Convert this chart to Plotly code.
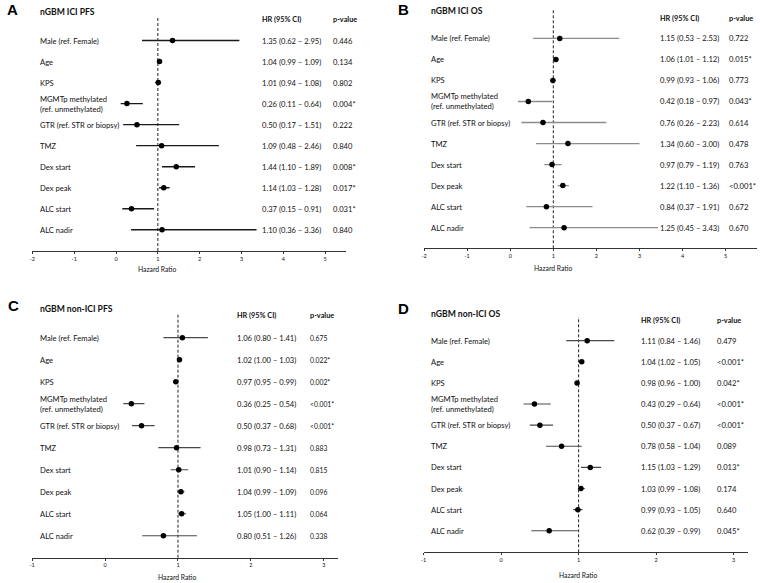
import plotly.graph_objects as go

W, H = 760, 583

labels = ["Male (ref. Female)", "Age", "KPS", "MGMTp methylated<br>(ref. unmethylated)",
          "GTR (ref. STR or biopsy)", "TMZ", "Dex start", "Dex peak", "ALC start", "ALC nadir"]

a_hr = [1.35, 1.04, 1.01, 0.26, 0.50, 1.09, 1.44, 1.14, 0.37, 1.10]
a_lo = [0.62, 0.99, 0.94, 0.11, 0.17, 0.48, 1.10, 1.03, 0.15, 0.36]
a_hi = [2.95, 1.09, 1.08, 0.64, 1.51, 2.46, 1.89, 1.28, 0.91, 3.36]
a_p = ["0.446", "0.134", "0.802", "0.004*", "0.222", "0.840", "0.008*", "0.017*", "0.031*", "0.840"]

b_hr = [1.15, 1.06, 0.99, 0.42, 0.76, 1.34, 0.97, 1.22, 0.84, 1.25]
b_lo = [0.53, 1.01, 0.93, 0.18, 0.26, 0.60, 0.79, 1.10, 0.37, 0.45]
b_hi = [2.53, 1.12, 1.06, 0.97, 2.23, 3.00, 1.19, 1.36, 1.91, 3.43]
b_p = ["0.722", "0.015*", "0.773", "0.043*", "0.614", "0.478", "0.763", "<0.001*", "0.672", "0.670"]

c_hr = [1.06, 1.02, 0.97, 0.36, 0.50, 0.98, 1.01, 1.04, 1.05, 0.80]
c_lo = [0.80, 1.00, 0.95, 0.25, 0.37, 0.73, 0.90, 0.99, 1.00, 0.51]
c_hi = [1.41, 1.03, 0.99, 0.54, 0.68, 1.31, 1.14, 1.09, 1.11, 1.26]
c_p = ["0.675", "0.022*", "0.002*", "<0.001*", "<0.001*", "0.883", "0.815", "0.096", "0.064", "0.338"]

d_hr = [1.11, 1.04, 0.98, 0.43, 0.50, 0.78, 1.15, 1.03, 0.99, 0.62]
d_lo = [0.84, 1.02, 0.96, 0.29, 0.37, 0.58, 1.03, 0.99, 0.93, 0.39]
d_hi = [1.46, 1.05, 1.00, 0.64, 0.67, 1.04, 1.29, 1.08, 1.05, 0.99]
d_p = ["0.479", "<0.001*", "0.042*", "<0.001*", "<0.001*", "0.089", "0.013*", "0.174", "0.640", "0.045*"]

ticks_wide = [-2, -1, 0, 1, 2, 3, 4, 5]
ticks_narrow = [-1, 0, 1, 2, 3]

FONT = "Lato"
TXT = "#111111"
FS = 7.6


def px(x):
    return x / W


def py(y):
    return 1 - y / H


panels = [
    dict(letter="A", title="nGBM ICI PFS", hr=a_hr, lo=a_lo, hi=a_hi, p=a_p, ticks=ticks_wide,
         xr=[-2, 5.49], xd=[29.5, 344], ytop=17, yaxis_px=251, yr=[10.01, -1.12],
         lab_x=35, hr_x=258, p_x=329, head_y=19, title_y=12.5, letter_xy=(2, 9.5),
         ticklab_y=258, axt_y=269, ecol="#1a1a1a", ew=1.4, pfs=FS),
    dict(letter="B", title="nGBM ICI OS", hr=b_hr, lo=b_lo, hi=b_hi, p=b_p, ticks=ticks_wide,
         xr=[-2, 5.72], xd=[422.7, 756.7], ytop=8.3, yaxis_px=248.3, yr=[9.98, -1.43],
         lab_x=428, hr_x=657.7, p_x=726.7, head_y=18.7, title_y=11, letter_xy=(395, 9.5),
         ticklab_y=255.7, axt_y=268, ecol="#8c8c8c", ew=1.3, pfs=FS),
    dict(letter="C", title="nGBM non-ICI PFS", hr=c_hr, lo=c_lo, hi=c_hi, p=c_p, ticks=ticks_narrow,
         xr=[-1, 3.2], xd=[29.3, 336.7], ytop=313, yaxis_px=557.7, yr=[10.0, -1.12],
         lab_x=35, hr_x=232.7, p_x=306, head_y=315, title_y=308.7, letter_xy=(3, 305),
         ticklab_y=565, axt_y=576.7, ecol="#4a4a4a", ew=1.1, pfs=6.8),
    dict(letter="D", title="nGBM non-ICI OS", hr=d_hr, lo=d_lo, hi=d_hi, p=d_p, ticks=ticks_narrow,
         xr=[-1, 3.19], xd=[422.3, 748.3], ytop=317, yaxis_px=552.3, yr=[10.02, -1.12],
         lab_x=427.3, hr_x=638.3, p_x=715, head_y=320.7, title_y=314.3, letter_xy=(395, 308),
         ticklab_y=560, axt_y=575, ecol="#4a4a4a", ew=1.1, pfs=FS),
]

fig = go.Figure()
annotations = []
shapes = []
layout = {}

for i, pn in enumerate(panels):
    k = "" if i == 0 else str(i + 1)
    xa, ya = "x" + k, "y" + k
    rows = list(range(len(labels)))
    fig.add_trace(go.Scatter(
        x=pn["hr"], y=rows, mode="markers", xaxis=xa, yaxis=ya,
        marker=dict(color="black", size=5.5),
        error_x=dict(type="data", symmetric=False,
                     array=[h - m for h, m in zip(pn["hi"], pn["hr"])],
                     arrayminus=[m - l for m, l in zip(pn["hr"], pn["lo"])],
                     width=0, color=pn["ecol"], thickness=pn["ew"]),
        showlegend=False, hoverinfo="skip", cliponaxis=False))
    layout["xaxis" + k] = dict(
        domain=[px(pn["xd"][0]), px(pn["xd"][1])], range=pn["xr"], anchor=ya,
        tickmode="array", tickvals=pn["ticks"], ticktext=[str(t) for t in pn["ticks"]],
        showline=True, linecolor="#333", linewidth=1.2, ticks="outside", ticklen=2,
        tickcolor="#333", tickfont=dict(size=5.5, family=FONT, color=TXT),
        showgrid=False, zeroline=False, fixedrange=True)
    layout["yaxis" + k] = dict(
        domain=[py(pn["yaxis_px"]), py(pn["ytop"])], range=pn["yr"], anchor=xa,
        visible=False, showgrid=False, zeroline=False, fixedrange=True)
    shapes.append(dict(type="line", xref=xa, yref=ya + " domain", x0=1, x1=1, y0=0, y1=1,
                       line=dict(color="#222", width=1, dash="3px,2px"), layer="below"))
    for r in rows:
        annotations.append(dict(x=px(pn["lab_x"]), y=r, xref="paper", yref=ya, text=labels[r],
                                showarrow=False, xanchor="left", yanchor="middle", align="left",
                                font=dict(size=FS, family=FONT, color=TXT)))
        annotations.append(dict(x=px(pn["hr_x"]), y=r, xref="paper", yref=ya,
                                text=f"{pn['hr'][r]:.2f} ({pn['lo'][r]:.2f} \u2013 {pn['hi'][r]:.2f})",
                                showarrow=False, xanchor="left", yanchor="middle",
                                font=dict(size=FS, family=FONT, color=TXT)))
        annotations.append(dict(x=px(pn["p_x"]), y=r, xref="paper", yref=ya, text=pn["p"][r],
                                showarrow=False, xanchor="left", yanchor="middle",
                                font=dict(size=pn["pfs"], family=FONT, color=TXT)))
    annotations.append(dict(x=px(pn["hr_x"]), y=py(pn["head_y"]), xref="paper", yref="paper",
                            text="<b>HR (95% CI)</b>", showarrow=False, xanchor="left", yanchor="middle",
                            font=dict(size=7.3, family=FONT, color=TXT)))
    annotations.append(dict(x=px(pn["p_x"]), y=py(pn["head_y"]), xref="paper", yref="paper",
                            text="<b>p-value</b>", showarrow=False, xanchor="left", yanchor="middle",
                            font=dict(size=7.3, family=FONT, color=TXT)))
    annotations.append(dict(x=px(pn["lab_x"]), y=py(pn["title_y"]), xref="paper", yref="paper",
                            text=f"<b>{pn['title']}</b>", showarrow=False, xanchor="left", yanchor="middle",
                            font=dict(size=8.6, family=FONT, color=TXT)))
    annotations.append(dict(x=px(pn["letter_xy"][0]), y=py(pn["letter_xy"][1]), xref="paper", yref="paper",
                            text=f"<b>{pn['letter']}</b>", showarrow=False, xanchor="left", yanchor="middle",
                            font=dict(size=15, family="Liberation Sans", color="black")))
    annotations.append(dict(x=1, y=py(pn["axt_y"]), xref=xa, yref="paper", text="Hazard Ratio",
                            showarrow=False, xanchor="center", yanchor="middle",
                            font=dict(size=6.8, family=FONT, color=TXT)))

fig.update_layout(width=W, height=H, margin=dict(l=0, r=0, t=0, b=0),
                  paper_bgcolor="white", plot_bgcolor="white",
                  annotations=annotations, shapes=shapes, **layout)

fig.write_html("out.html")
